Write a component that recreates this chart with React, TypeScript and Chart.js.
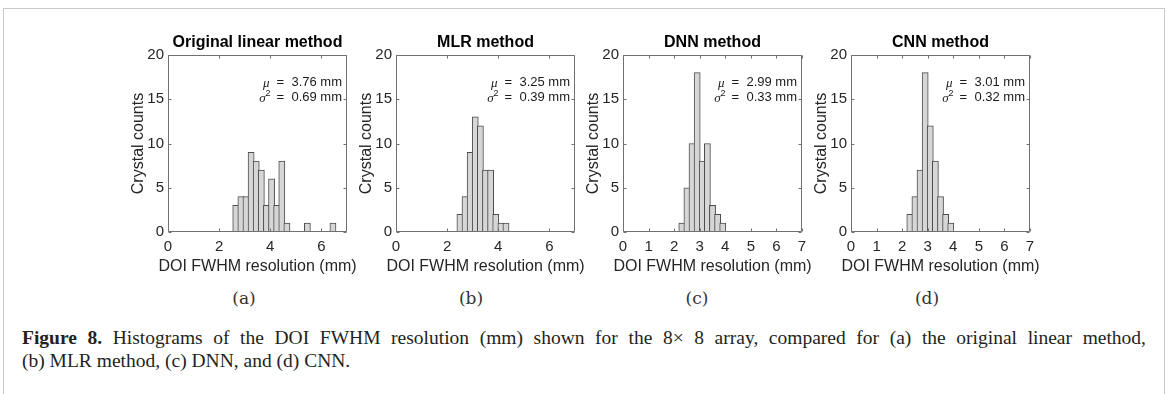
import React, { useEffect, useRef } from "react";
import { Chart, registerables } from "chart.js";

Chart.register(...registerables);

// ---------------- data ----------------
const panelTitles = ["Original linear method", "MLR method", "DNN method", "CNN method"];
const subLabels = ["(a)", "(b)", "(c)", "(d)"];
const xAxisLabel = "DOI FWHM resolution (mm)";
const yAxisLabel = "Crystal counts";

const binWidth = 0.2;
const binStartA = 2.55;
const countsA = [3, 4, 4, 9, 8, 7, 3, 6, 3, 8, 1, 0, 0, 0, 1, 0, 0, 0, 0, 1];
const binStartB = 2.4;
const countsB = [2, 4, 9, 13, 12, 7, 7, 2, 1, 1];
const binStartC = 2.2;
const countsC = [1, 5, 10, 18, 8, 10, 3, 2, 1];
const binStartD = 2.2;
const countsD = [2, 4, 7, 18, 12, 8, 4, 2, 1];

const muValues = ["3.76", "3.25", "2.99", "3.01"];
const sigmaValues = ["0.69", "0.39", "0.33", "0.32"];

const xMin = 0;
const xMax = 7;
const xTickSteps = [2, 2, 1, 1];
const yMin = 0;
const yMax = 20;
const yTickStep = 5;

const binStarts = [binStartA, binStartB, binStartC, binStartD];
const binCounts = [countsA, countsB, countsC, countsD];

const captionLine1Rest =
  " Histograms of the DOI FWHM resolution (mm) shown for the 8\u00d7 8 array, compared for (a) the original linear method,";
const captionLine2 = "(b) MLR method, (c) DNN, and (d) CNN.";

// ---------------- layout / style ----------------
const plotLefts = [168, 396, 623, 851];
const plotW = 179;
const plotTop = 55;
const plotH = 177;
const marginL = 60;
const marginR = 60;
const titleBlock = 30;
const xAxisBlock = 50;
const canvasTop = plotTop - titleBlock;
const canvasW = marginL + plotW + marginR;
const canvasH = titleBlock + plotH + xAxisBlock;

const subLabelCenters = [244, 471, 697, 927];

const SANS = '"Liberation Sans", Arial, sans-serif';
const TEXT = "#262626";
const AXIS = "#707070";

function makeConfig(idx: number) {
  const start = binStarts[idx];
  const counts = binCounts[idx];
  const data = counts.map((c, i) => ({ x: start + binWidth * (i + 0.5), y: c }));
  const pxPerBin = (plotW / (xMax - xMin)) * binWidth;
  const step = xTickSteps[idx];

  const deco = {
    id: "deco" + idx,
    afterDatasetsDraw(chart: any) {
      const { ctx, chartArea: a, scales } = chart;
      const xs = scales.x;
      const ys = scales.y;
      ctx.save();
      // box
      ctx.strokeStyle = AXIS;
      ctx.lineWidth = 1;
      const L = Math.round(a.left) + 0.5;
      const R = Math.round(a.right) - 0.5;
      const T = Math.round(a.top) + 0.5;
      const B = Math.round(a.bottom) - 0.5;
      ctx.beginPath();
      ctx.moveTo(L, T);
      ctx.lineTo(R, T);
      ctx.lineTo(R, B);
      ctx.lineTo(L, B);
      ctx.closePath();
      ctx.stroke();
      // inward ticks
      const tl = 3;
      ctx.beginPath();
      xs.ticks.forEach((t: any) => {
        const px = Math.round(xs.getPixelForValue(t.value)) + 0.5;
        ctx.moveTo(px, B);
        ctx.lineTo(px, B - tl);
        ctx.moveTo(px, T);
        ctx.lineTo(px, T + tl);
      });
      ys.ticks.forEach((t: any) => {
        const py = Math.round(ys.getPixelForValue(t.value)) + 0.5;
        ctx.moveTo(L, py);
        ctx.lineTo(L + tl, py);
        ctx.moveTo(R, py);
        ctx.lineTo(R - tl, py);
      });
      ctx.stroke();

      // x-axis label
      ctx.fillStyle = TEXT;
      ctx.font = `16px ${SANS}`;
      ctx.textAlign = "center";
      ctx.textBaseline = "middle";
      ctx.fillText(xAxisLabel, (a.left + a.right) / 2, a.bottom + 35);

      // statistics annotation
      const rx = a.right - 5;
      const y1 = a.top + 27.7;
      const y2 = a.top + 42.3;
      ctx.fillStyle = "#1a1a1a";
      ctx.textAlign = "right";
      ctx.font = `13px ${SANS}`;
      const v1 = `=  ${muValues[idx]} mm`;
      const v2 = `=  ${sigmaValues[idx]} mm`;
      ctx.fillText(v1, rx, y1);
      ctx.fillText(v2, rx, y2);
      const w1 = ctx.measureText(v1).width;
      const w2 = ctx.measureText(v2).width;
      ctx.font = `italic 13px "Liberation Serif", serif`;
      ctx.fillText("\u03bc", rx - w1 - 7, y1 + 1);
      ctx.font = `9px ${SANS}`;
      const w2sup = ctx.measureText("2").width;
      ctx.fillText("2", rx - w2 - 6, y2 - 4);
      ctx.font = `italic 13px "Liberation Serif", serif`;
      ctx.fillText("\u03c3", rx - w2 - 6 - w2sup, y2 + 1);
      ctx.restore();
    },
  };

  return {
    type: "bar" as const,
    data: {
      datasets: [
        {
          data,
          backgroundColor: "#d6d6d6",
          borderColor: "#4d4d4d",
          borderWidth: 1,
          barThickness: pxPerBin + 1,
        },
      ],
    },
    options: {
      responsive: false,
      animation: false as const,
      layout: { padding: { left: 0, right: marginR, top: 0, bottom: 0 } },
      plugins: {
        legend: { display: false },
        tooltip: { enabled: false },
        title: {
          display: true,
          fullSize: false,
          text: panelTitles[idx],
          color: "#000",
          font: { family: SANS, size: 16, weight: "bold" as const },
          padding: { top: 8, bottom: 2.8 },
        },
      },
      scales: {
        x: {
          type: "linear" as const,
          min: xMin,
          max: xMax,
          bounds: "data" as const,
          offset: false,
          grid: { display: false, drawTicks: false },
          border: { display: false },
          ticks: {
            stepSize: step,
            includeBounds: false,
            autoSkip: false,
            maxRotation: 0,
            padding: 6,
            color: TEXT,
            font: { family: SANS, size: 15 },
          },
          afterBuildTicks: (s: any) => {
            s.ticks = s.ticks.filter((t: any) => Math.abs(t.value / step - Math.round(t.value / step)) < 1e-6);
          },
          afterFit: (s: any) => {
            s.height = xAxisBlock;
          },
        },
        y: {
          type: "linear" as const,
          min: yMin,
          max: yMax,
          grid: { display: false, drawTicks: false },
          border: { display: false },
          ticks: {
            stepSize: yTickStep,
            padding: 4,
            color: TEXT,
            font: { family: SANS, size: 15 },
          },
          title: {
            display: true,
            text: yAxisLabel,
            color: TEXT,
            font: { family: SANS, size: 16 },
            padding: { top: 21, bottom: 0 },
          },
          afterFit: (s: any) => {
            s.width = marginL;
          },
        },
      },
    },
    plugins: [deco],
  };
}

function Panel({ idx }: { idx: number }) {
  const ref = useRef<HTMLCanvasElement>(null);
  useEffect(() => {
    const chart = new Chart(ref.current as HTMLCanvasElement, makeConfig(idx) as any);
    return () => chart.destroy();
  }, [idx]);
  return (
    <canvas
      ref={ref}
      width={canvasW}
      height={canvasH}
      style={{
        position: "absolute",
        left: plotLefts[idx] - marginL,
        top: canvasTop,
        width: canvasW,
        height: canvasH,
      }}
    />
  );
}

export default function App() {
  return (
    <div
      style={{
        position: "absolute",
        left: 0,
        top: 0,
        width: 1167,
        height: 394,
        background: "#fff",
        overflow: "hidden",
      }}
    >
      {/* page frame */}
      <div style={{ position: "absolute", left: 3, top: 8, width: 1161, height: 1, background: "#c8c8c8" }} />
      <div style={{ position: "absolute", left: 3, top: 8, width: 1, height: 386, background: "#c8c8c8" }} />
      <div style={{ position: "absolute", left: 1164, top: 8, width: 1, height: 386, background: "#c8c8c8" }} />

      {[0, 1, 2, 3].map((i) => (
        <Panel key={i} idx={i} />
      ))}

      {subLabels.map((s, i) => (
        <div
          key={s}
          style={{
            position: "absolute",
            left: subLabelCenters[i] - 40,
            width: 80,
            top: 287,
            textAlign: "center",
            font: '17px "DejaVu Serif", serif',
            lineHeight: "22px",
            color: "#333",
          }}
        >
          {s}
        </div>
      ))}

      <div
        style={{
          position: "absolute",
          left: 22,
          top: 326,
          width: 1124,
          font: '19.5px "Liberation Serif", serif',
          lineHeight: "23px",
          color: "#231f20",
        }}
      >
        <div style={{ textAlign: "justify", textAlignLast: "justify", whiteSpace: "nowrap" as any }}>
          <b>Figure 8.</b>
          {captionLine1Rest}
        </div>
        <div style={{ whiteSpace: "nowrap" }}>{captionLine2}</div>
      </div>
    </div>
  );
}
